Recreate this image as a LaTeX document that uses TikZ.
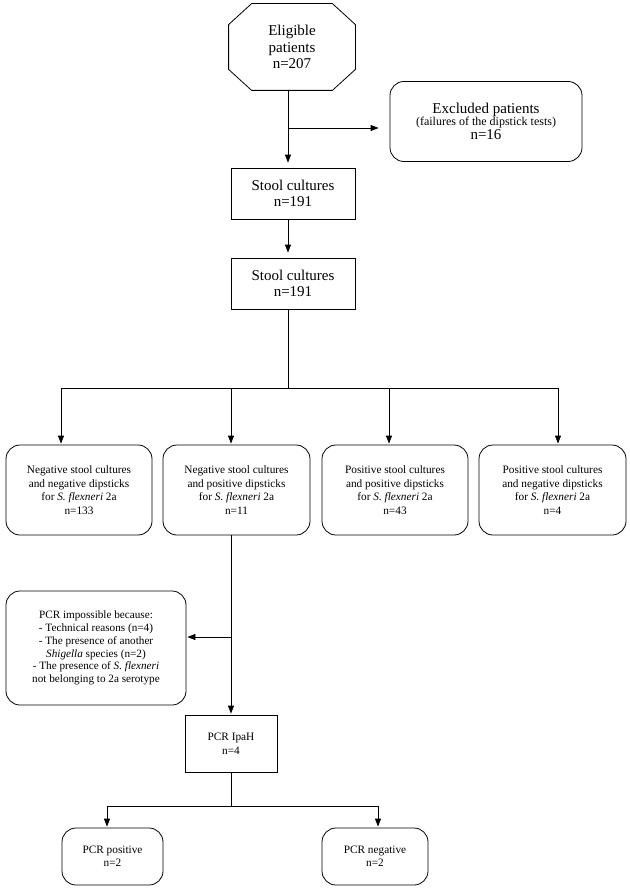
\documentclass[tikz,border=0pt]{standalone}
\usepackage{fontspec}
\setmainfont{Liberation Serif}
\usetikzlibrary{shapes,arrows.meta,positioning}

\begin{document}
\begin{tikzpicture}[x=1pt,y=-1pt,
    line width=0.8pt,
    box/.style={draw, rectangle, align=center, inner sep=2pt},
    rbox/.style={box, rounded corners=14pt},
    arr/.style={-{Triangle[length=8pt,width=6pt]}, shorten >=1pt},
    big/.style={font=\fontsize{15}{16.5}\selectfont},
    small/.style={font=\fontsize{11.3}{13.5}\selectfont}]
  \useasboundingbox (0,0) rectangle (629,888);

  % top of the chart
  \node[align=center, big, minimum width=126pt, minimum height=86pt] (elig) at (292,47)
        {Eligible\\patients\\n=207};
  \draw ([xshift=23pt]elig.north west) -- ([xshift=-23pt]elig.north east)
        -- ([yshift=-21pt]elig.north east) -- ([yshift=21pt]elig.south east)
        -- ([xshift=-23pt]elig.south east) -- ([xshift=23pt]elig.south west)
        -- ([yshift=21pt]elig.south west) -- ([yshift=-21pt]elig.north west) -- cycle;
  \node[rbox, font=\fontsize{12}{12.6}\selectfont, minimum width=192pt, minimum height=80pt]
        (excl) at (486,121.5)
        {{\fontsize{15}{12.6}\selectfont Excluded patients}\\[-1pt]
         (failures of the dipstick tests)\\[1.5pt]
         {\fontsize{15}{12.6}\selectfont n=16}};
  \node[box, big, minimum width=124pt, minimum height=51pt] (stoolA) at (293,193.5)
        {Stool cultures\\n=191};
  \node[box, big, minimum width=124pt, minimum height=51pt] (stoolB) at (293,283.5)
        {Stool cultures\\n=191};

  % the four groups
  \node[rbox, small, minimum width=146pt, minimum height=90pt] (nsnd) at (79,490)
        {Negative stool cultures\\and negative dipsticks\\for \textit{S. flexneri} 2a\\n=133};
  \node[rbox, small, minimum width=147pt, minimum height=90pt] (nspd) at (236.5,490)
        {Negative stool cultures\\and positive dipsticks\\for \textit{S. flexneri} 2a\\n=11};
  \node[rbox, small, minimum width=146pt, minimum height=90pt] (pspd) at (395,490)
        {Positive stool cultures\\and positive dipsticks\\for \textit{S. flexneri} 2a\\n=43};
  \node[rbox, small, minimum width=147pt, minimum height=90pt] (psnd) at (552.5,490)
        {Positive stool cultures\\and negative dipsticks\\for \textit{S. flexneri} 2a\\n=4};

  % PCR part
  \node[rbox, font=\fontsize{11.2}{12.7}\selectfont, minimum width=180pt, minimum height=114pt]
        (nopcr) at (96,648)
        {PCR impossible because:\\- Technical reasons (n=4)\\- The presence of another\\
         \textit{Shigella} species (n=2)\\- The presence of \textit{S. flexneri}\\
         not belonging to 2a serotype};
  \node[box, font=\fontsize{11.3}{14}\selectfont, minimum width=92pt, minimum height=57pt]
        (ipah) at (231,743.5) {PCR IpaH\\n=4};
  \node[rbox, font=\fontsize{11.3}{13}\selectfont, minimum width=101pt, minimum height=57pt]
        (pcrpos) at (112.5,856.5) {PCR positive\\n=2};
  \node[rbox, font=\fontsize{11.3}{13}\selectfont, minimum width=106pt, minimum height=57pt]
        (pcrneg) at (375,856.5) {PCR negative\\n=2};

  % junctions
  \coordinate (j1) at (288,128);
  \coordinate (d1) at (61,388);
  \coordinate (d2) at (231,388);
  \coordinate (d3) at (389,388);
  \coordinate (d4) at (558,388);
  \coordinate (j3) at (231,637);
  \coordinate (e1) at (107,806);
  \coordinate (e2) at (378,806);

  % connectors
  \draw (elig.south -| j1) -- (j1);
  \draw[arr, shorten >=11pt] (j1) -- (excl.west |- j1);
  \draw[arr, shorten >=5pt] (j1) -- (stoolA.north -| j1);
  \draw[arr, shorten >=5pt] (stoolA.south -| j1) -- (stoolB.north -| j1);
  \draw (stoolB.south -| j1) -- (j1 |- d1);
  \draw (d1) -- (d4);
  \foreach \d/\b in {d1/nsnd, d2/nspd, d3/pspd, d4/psnd}
    \draw[arr] (\d) -- (\b.north -| \d);
  \draw[arr] (nspd.south -| d2) -- (ipah.north -| d2);
  \draw[arr] (j3) -- (nopcr.east |- j3);
  \draw (ipah.south) -- (ipah.south |- e1);
  \draw (e1) -- (e2);
  \draw[arr] (e1) -- (pcrpos.north -| e1);
  \draw[arr] (e2) -- (pcrneg.north -| e2);
\end{tikzpicture}
\end{document}
